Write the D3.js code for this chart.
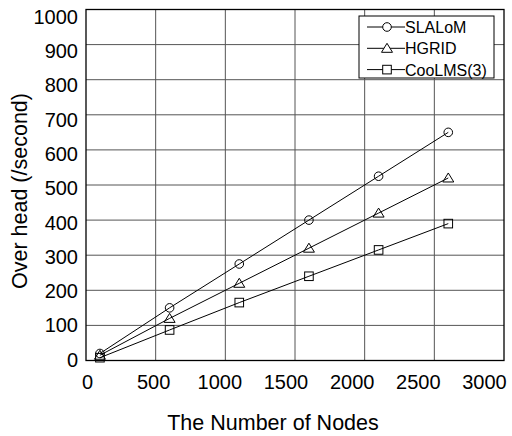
<!DOCTYPE html>
<html><head><meta charset="utf-8">
<script src="https://cdn.jsdelivr.net/npm/d3@7/dist/d3.min.js"></script>
<style>body{margin:0;background:#fff}svg{display:block;font-family:"Liberation Sans",Arial,sans-serif}</style>
</head><body><svg id="c" width="512" height="436"></svg>
<script>
const nodes = [100, 600, 1100, 1600, 2100, 2600];
const slalom = [20, 150, 275, 400, 525, 650];
const hgrid = [15, 120, 220, 320, 420, 520];
const coolms = [8, 87, 165, 240, 315, 390];
const seriesNames = ["SLALoM", "HGRID", "CooLMS(3)"];
const xTicks = [0, 500, 1000, 1500, 2000, 2500, 3000];
const yTicks = [0, 100, 200, 300, 400, 500, 600, 700, 800, 900, 1000];

const svg = d3.select("#c");
const L = 86, R = 504, T = 9.5, B = 360.5;
const x = d3.scaleLinear().domain([0, 3000]).range([L, R]);
const y = d3.scaleLinear().domain([0, 1000]).range([B, T]);
// label placement scales (labels in the original drift slightly from gridlines)
const xLab = d3.scaleLinear().domain([0, 3000]).range([87, 484]);
const yLab = d3.scaleLinear().domain([0, 1000]).range([359, 16]);

// grid
const g = svg.append("g");
g.selectAll("line.vx").data(xTicks.slice(1, -1)).enter().append("line")
  .attr("x1", d => x(d)).attr("x2", d => x(d)).attr("y1", T).attr("y2", B)
  .attr("stroke", "#555").attr("stroke-width", 1);
g.selectAll("line.hy").data(yTicks.slice(1, -1)).enter().append("line")
  .attr("y1", d => y(d)).attr("y2", d => y(d)).attr("x1", L).attr("x2", R)
  .attr("stroke", "#555").attr("stroke-width", 1);
svg.append("rect").attr("x", L).attr("y", T).attr("width", R - L).attr("height", B - T)
  .attr("fill", "none").attr("stroke", "#000").attr("stroke-width", 1.3);

// axes labels via d3 axes
const xa = svg.append("g").attr("transform", `translate(0,${B})`)
  .call(d3.axisBottom(xLab).tickValues(xTicks).tickSize(0).tickPadding(0).tickFormat(d3.format("d")));
xa.select(".domain").remove();
xa.selectAll("text").attr("font-size", 20).attr("fill", "#000").attr("dy", null).attr("y", 28)
  .attr("font-family", "Liberation Sans, Arial, sans-serif");
const ya = svg.append("g").attr("transform", `translate(78,0)`)
  .call(d3.axisLeft(yLab).tickValues(yTicks).tickSize(0).tickPadding(0).tickFormat(d3.format("d")));
ya.select(".domain").remove();
ya.selectAll("text").attr("font-size", 20).attr("fill", "#000").attr("x", 0).attr("dy", "0.36em")
  .attr("font-family", "Liberation Sans, Arial, sans-serif");

svg.append("text").attr("x", 273).attr("y", 430).attr("text-anchor", "middle")
  .attr("font-size", 21.5).text("The Number of Nodes");
svg.append("text").attr("transform", "translate(27,191) rotate(-90)").attr("text-anchor", "middle")
  .attr("font-size", 21.5).text("Over head (/second)");

const data = [slalom, hgrid, coolms];
const line = d3.line().x(d => x(d[0])).y(d => y(d[1]));

function marker(sel, type, cx, cy) {
  if (type === 0) sel.append("circle").attr("cx", cx).attr("cy", cy).attr("r", 4.3);
  else if (type === 1) sel.append("path").attr("d", `M${cx},${cy - 5}L${cx + 5.5},${cy + 4}L${cx - 5.5},${cy + 4}Z`);
  else sel.append("rect").attr("x", cx - 4.3).attr("y", cy - 4.3).attr("width", 8.6).attr("height", 8.6);
}

data.forEach((vals, i) => {
  const pts = nodes.map((n, j) => [n, vals[j]]);
  svg.append("path").attr("d", line(pts)).attr("fill", "none").attr("stroke", "#000").attr("stroke-width", 1);
  const mg = svg.append("g").attr("fill", "#fff").attr("fill-opacity", 0).attr("stroke", "#000").attr("stroke-width", 1);
  pts.forEach(p => marker(mg, i, x(p[0]), y(p[1])));
});

// legend
const lg = svg.append("g");
lg.append("rect").attr("x", 359).attr("y", 16).attr("width", 135).attr("height", 62)
  .attr("fill", "#fff").attr("stroke", "#000").attr("stroke-width", 1);
seriesNames.forEach((name, i) => {
  const ly = 27 + i * 21.3;
  lg.append("line").attr("x1", 367).attr("x2", 405).attr("y1", ly).attr("y2", ly).attr("stroke", "#000");
  const mg = lg.append("g").attr("fill", "#fff").attr("stroke", "#000").attr("stroke-width", 1);
  marker(mg, i, 387, ly);
  lg.append("text").attr("x", 405).attr("y", ly + 6).attr("font-size", 16).text(name);
});
</script></body></html>
